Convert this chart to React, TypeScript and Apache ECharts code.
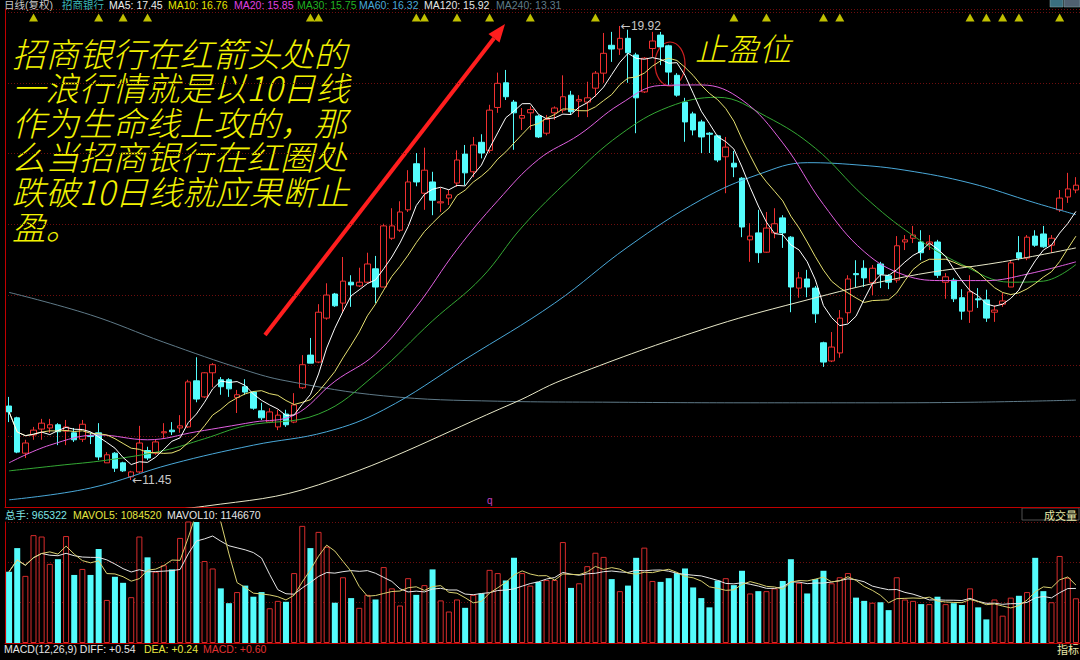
import React, { useEffect, useRef } from "react";
import * as echarts from "echarts";

// [open, close, low, high]
const candles: number[][] = [
  [12.83, 12.72, 12.53, 13.0], [12.61, 11.97, 11.95, 12.63], [11.95, 12.14, 11.86, 12.2], [12.29, 12.38, 12.2, 12.44],
  [12.4, 12.51, 12.2, 12.59], [12.42, 12.48, 12.33, 12.59], [12.48, 12.35, 12.1, 12.51], [12.36, 12.44, 12.1, 12.57],
  [12.33, 12.2, 12.16, 12.42], [12.21, 12.49, 12.16, 12.57], [12.28, 12.26, 12.12, 12.34], [12.33, 11.88, 11.82, 12.51],
  [11.77, 11.92, 11.77, 11.97], [11.95, 11.67, 11.6, 11.97], [11.77, 11.62, 11.6, 11.79], [11.51, 11.6, 11.45, 11.62],
  [11.6, 12.14, 11.58, 12.46], [12.0, 11.86, 11.82, 12.07], [11.95, 12.16, 11.92, 12.2], [12.33, 12.35, 12.23, 12.51],
  [12.38, 12.35, 12.29, 12.53], [12.42, 12.46, 12.33, 12.66], [12.44, 13.28, 12.42, 13.32], [13.3, 12.96, 12.9, 13.74],
  [13.0, 13.45, 12.98, 13.46], [13.45, 13.6, 13.18, 13.63], [13.32, 13.19, 13.04, 13.37], [13.32, 13.15, 13.0, 13.35],
  [12.99, 13.04, 12.7, 13.13], [13.19, 13.09, 13.04, 13.33], [13.09, 12.79, 12.76, 13.11], [12.74, 12.61, 12.57, 12.89],
  [12.53, 12.72, 12.51, 12.79], [12.44, 12.66, 12.38, 12.76], [12.68, 12.48, 12.44, 12.76], [12.53, 12.85, 12.51, 13.07],
  [13.17, 13.6, 13.15, 13.78], [13.78, 13.63, 13.63, 14.1], [13.65, 14.58, 13.63, 14.73], [14.47, 14.9, 14.44, 15.12],
  [14.92, 14.7, 14.68, 14.94], [14.75, 15.16, 14.58, 15.61], [15.14, 15.09, 14.68, 15.27], [15.07, 15.14, 15.05, 15.41],
  [15.14, 15.48, 15.12, 15.69], [15.39, 15.05, 14.75, 15.63], [15.05, 16.19, 15.05, 16.23], [15.96, 16.19, 15.93, 16.52],
  [16.11, 16.45, 16.08, 16.65], [16.49, 17.01, 16.45, 17.23], [17.35, 17.01, 16.93, 17.55], [16.8, 17.23, 16.49, 17.65],
  [17.01, 16.67, 16.39, 17.2], [16.62, 16.64, 16.45, 16.9], [16.71, 16.77, 16.58, 16.86], [16.99, 17.42, 16.92, 17.6],
  [17.53, 17.18, 16.95, 17.7], [17.2, 17.7, 17.1, 17.85], [17.75, 17.55, 17.45, 17.9], [17.6, 18.35, 17.55, 18.45],
  [18.4, 18.85, 18.3, 19.05], [18.86, 18.6, 18.54, 19.1], [18.5, 18.3, 17.61, 18.54], [18.2, 18.25, 17.98, 18.39],
  [18.3, 18.36, 17.98, 18.42], [18.24, 17.85, 17.83, 18.26], [17.92, 18.18, 17.88, 18.26], [18.3, 18.39, 18.17, 18.42],
  [18.35, 18.6, 18.3, 19.0], [18.63, 18.32, 18.26, 18.71], [18.52, 18.55, 18.22, 18.63], [18.5, 18.58, 18.22, 18.88],
  [18.76, 19.04, 18.6, 19.08], [19.04, 19.41, 18.86, 19.79], [19.56, 19.49, 19.25, 19.81], [19.49, 19.69, 19.38, 19.92],
  [19.69, 19.42, 18.86, 19.85], [19.38, 18.58, 17.92, 19.42], [18.69, 19.32, 18.67, 19.34], [19.5, 19.64, 19.34, 19.81],
  [19.75, 19.53, 19.19, 19.81], [19.55, 19.06, 18.82, 19.57], [19.0, 18.63, 18.6, 19.04], [18.5, 18.13, 17.76, 18.58],
  [18.28, 17.98, 17.88, 18.32], [18.13, 17.85, 17.55, 18.17], [17.92, 17.9, 17.55, 17.94], [17.87, 17.42, 17.38, 17.89],
  [17.48, 17.66, 16.8, 17.85], [17.36, 17.29, 17.1, 17.59], [17.08, 16.17, 15.98, 17.1], [15.93, 16.0, 15.52, 16.24],
  [16.06, 15.69, 15.5, 16.49], [15.7, 16.15, 15.69, 16.45], [16.06, 16.23, 15.96, 16.52], [16.34, 16.06, 15.78, 16.39],
  [15.98, 15.05, 14.58, 16.0], [15.03, 15.22, 14.85, 15.33], [15.2, 15.05, 14.86, 15.37], [15.03, 14.55, 14.38, 15.07],
  [14.01, 13.65, 13.56, 14.03], [13.67, 13.93, 13.65, 14.21], [13.82, 14.47, 13.73, 14.62], [14.57, 15.2, 14.38, 15.27],
  [15.3, 15.28, 15.05, 15.55], [15.4, 15.22, 15.05, 15.55], [15.13, 15.4, 14.9, 15.46], [15.48, 15.29, 15.03, 15.52],
  [15.26, 15.14, 15.01, 15.29], [15.18, 15.82, 15.13, 16.0], [15.89, 15.93, 15.74, 16.02], [15.96, 16.02, 15.87, 16.19],
  [15.89, 15.69, 15.55, 16.11], [15.85, 15.89, 15.74, 16.02], [15.89, 15.27, 15.22, 15.93], [15.14, 15.24, 14.83, 15.31],
  [15.18, 14.83, 14.77, 15.22], [14.85, 14.6, 14.44, 15.01], [14.6, 14.96, 14.38, 15.27], [14.83, 14.81, 14.66, 15.03],
  [14.81, 14.47, 14.4, 15.0], [14.58, 14.62, 14.4, 14.71], [14.73, 14.79, 14.68, 14.94], [15.05, 15.5, 15.05, 15.55],
  [15.69, 15.59, 15.55, 16.0], [15.59, 15.98, 15.55, 16.02], [16.0, 15.83, 15.8, 16.11], [16.04, 15.8, 15.78, 16.19],
  [15.83, 15.96, 15.69, 16.02], [16.49, 16.71, 16.45, 16.86], [16.73, 16.88, 16.62, 17.18], [16.86, 16.95, 16.8, 17.1],
];

const volumes: number[] = [
  1540000, 2050000, 1450000, 2330000, 2300000, 1710000, 1810000, 2310000, 1470000, 1600000,
  1470000, 2030000, 930000, 1430000, 1300000, 990000, 2300000, 1850000, 1540000, 1680000,
  1590000, 2270000, 4300000, 4200000, 1770000, 1610000, 1180000, 860000, 1100000, 1240000,
  1000000, 1100000, 750000, 910000, 890000, 1510000, 2530000, 2050000, 2400000, 2080000,
  870000, 1420000, 970000, 760000, 1040000, 940000, 1640000, 1180000, 810000, 1400000,
  1040000, 1250000, 1590000, 920000, 680000, 940000, 760000, 1040000, 1070000, 1580000,
  1510000, 1350000, 1840000, 1510000, 1240000, 1320000, 1360000, 1360000, 2180000, 1190000,
  1290000, 1660000, 1950000, 1860000, 1380000, 1120000, 1240000, 1840000, 2060000, 1340000,
  1320000, 1400000, 1510000, 1610000, 1200000, 970000, 770000, 1350000, 1400000, 1250000,
  1560000, 1070000, 1120000, 1120000, 1180000, 1340000, 1810000, 1300000, 1070000, 1380000,
  1560000, 1290000, 1420000, 1510000, 980000, 910000, 870000, 880000, 710000, 1420000,
  940000, 910000, 840000, 840000, 1000000, 840000, 860000, 820000, 1180000, 770000,
  510000, 940000, 590000, 980000, 1020000, 1100000, 1840000, 1120000, 880000, 1880000,
  1410000, 965322,
];

// moving averages: [candle index, value]
const ma20Pts: number[][] = [
  [0, 11.77], [5, 12.1], [11, 12.29], [17, 12.2], [23, 12.35], [30, 12.53], [35, 12.66], [40, 13.29], [45, 13.8],
  [50, 14.68], [55, 15.75], [60, 16.66], [65, 17.43], [70, 17.89], [75, 18.46], [80, 18.81], [85, 18.82], [90, 18.54],
  [95, 17.74], [100, 16.59], [105, 15.71], [110, 15.27], [115, 15.17], [120, 15.17], [125, 15.29], [131, 15.52],
];
const ma30Pts: number[][] = [
  [0, 11.62], [6, 11.72], [12, 11.82], [19, 12.0], [24, 12.22], [29, 12.46], [38, 12.68], [45, 13.42], [52, 14.42],
  [58, 15.22], [63, 16.17], [69, 17.09], [75, 17.89], [81, 18.41], [87, 18.59], [93, 18.23], [99, 17.64], [105, 16.74],
  [111, 16.01], [117, 15.47], [123, 15.14], [127, 15.16], [131, 15.47],
];
const ma60Pts: number[][] = [
  [0, 11.08], [10, 11.3], [20, 11.75], [30, 12.1], [39, 12.35], [46, 12.76], [56, 13.7], [67, 14.75], [76, 15.8],
  [85, 16.68], [92, 17.15], [98, 17.37], [104, 17.33], [110, 17.23], [118, 16.99], [126, 16.62], [131, 16.4],
];
const ma120Pts: number[][] = [
  [14, 10.85], [24, 10.96], [38, 11.36], [62, 12.89], [68, 13.32], [85, 14.25], [97, 14.77], [110, 15.24], [122, 15.52], [131, 15.78],
];
const ma240Pts: number[][] = [
  [0, 14.95], [10, 14.53], [19, 14.02], [29, 13.5], [34, 13.3], [46, 13.02], [60, 12.92], [75, 12.9], [90, 12.89],
  [105, 12.89], [118, 12.9], [131, 12.94],
];

const signalIdx: number[] = [3, 11, 14, 17, 37, 38, 50, 51, 55, 59, 64, 72, 89, 93, 100, 102, 118, 120, 122, 124, 129];
const signalLevel = 20.08;

const headerTexts: string[] = ["日线(复权)", "招商银行", "MA5: 17.45", "MA10: 16.76", "MA20: 15.85", "MA30: 15.75", "MA60: 16.32", "MA120: 15.92", "MA240: 13.31"];
const volHeaderTexts: string[] = ["总手: 965322", "MAVOL5: 1084520", "MAVOL10: 1146670"];
const macdTexts: string[] = ["MACD(12,26,9) DIFF: +0.54", "DEA: +0.24", "MACD: +0.60"];
const noteLines: string[] = ["招商银行在红箭头处的", "一浪行情就是以10日线", "作为生命线上攻的，那", "么当招商银行在红圈处", "跌破10日线就应果断止", "盈。"];
const stopText = "止盈位";

const days = candles.map((_, i) => `D${i + 1}`);

function movingAvg(vals: number[], n: number): number[] {
  return vals.map((_, i) => {
    const w = vals.slice(Math.max(0, i - n + 1), i + 1);
    return +(w.reduce((a, b) => a + b, 0) / w.length).toFixed(3);
  });
}

const SANS = '"Liberation Sans", "Noto Sans CJK SC", sans-serif';
const CJK = '"Noto Sans CJK SC", sans-serif';

function buildOption() {
  const closes = candles.map((c) => c[1]);
  const ma5 = movingAvg(closes, 5);
  const ma10 = movingAvg(closes, 10);
  const mav5 = movingAvg(volumes, 5);
  const mav10 = movingAvg(volumes, 10);

  let hiI = 0, loI = 0;
  candles.forEach((c, i) => {
    if (c[3] > candles[hiI][3]) hiI = i;
    if (c[2] < candles[loI][2]) loI = i;
  });

  const volItems = volumes.map((v, i) => {
    const up = candles[i][1] >= candles[i][0];
    return {
      value: v,
      itemStyle: up
        ? { color: "#000000", borderColor: "#D82C2C", borderWidth: 1 }
        : { color: "#54FCFC", borderColor: "#54FCFC", borderWidth: 0 },
    };
  });

  const pts = (p: number[][]) => p.map(([i, v]) => [days[i], v]);
  const line = (data: any[], color: string, smooth: boolean | number = false, xi = 0, yi = 0) => ({
    type: "line",
    xAxisIndex: xi,
    yAxisIndex: yi,
    data,
    symbol: "none",
    smooth,
    silent: true,
    lineStyle: { color, width: 1 },
    z: 3,
  });

  const hidden = { axisTick: { show: false }, axisLabel: { show: false } };
  const dotted = { show: true, lineStyle: { color: "#6E0E0E", width: 1, type: [1, 2] } };

  const headerX = [4, 62, 109, 168, 234, 297, 359, 424, 496];
  const headerC = ["#C8C8C8", "#3CB8B8", "#EDEDED", "#E6E600", "#E040E0", "#22B022", "#4AA8D8", "#E6E6E6", "#5F7A88"];
  const volX = [5, 73, 167];
  const volC = ["#7FE5E5", "#E6E640", "#E6E6E6"];
  const macdX = [4, 144, 203];
  const macdC = ["#E6E6E6", "#E6E640", "#E03030"];

  const u = [238 / 389, -308 / 389];
  const tip = [505, 24];
  const base = [tip[0] - 18 * u[0], tip[1] - 18 * u[1]];
  const nrm = [-u[1], u[0]];

  const small = (x: number, y: number, t: string, c: string) => ({
    type: "text", x, y, silent: true,
    style: { text: t, fill: c, fontSize: 10.5, fontFamily: SANS, verticalAlign: "middle" },
  });

  const graphic: any[] = [
    ...headerTexts.map((t, i) => small(headerX[i], 5, t, headerC[i])),
    ...volHeaderTexts.map((t, i) => small(volX[i], 515, t, volC[i])),
    ...macdTexts.map((t, i) => small(macdX[i], 649, t, macdC[i])),
    { type: "rect", shape: { x: 1022, y: 508, width: 57, height: 12 }, style: { fill: "#000", stroke: "#505050", lineWidth: 1 } },
    { type: "text", x: 1077, y: 515, style: { text: "成交量", fill: "#E8E8A8", fontSize: 11, fontFamily: CJK, align: "right", verticalAlign: "middle" } },
    { type: "text", x: 1057, y: 649, style: { text: "指标", fill: "#E8E8A8", fontSize: 11, fontFamily: CJK, verticalAlign: "middle" } },
    { type: "rect", shape: { x: 1050, y: -2, width: 13, height: 9 }, style: { fill: "#3A6F7F", stroke: "#8AA", lineWidth: 0.5 } },
    { type: "rect", shape: { x: 1064, y: -2, width: 16, height: 9 }, style: { fill: "#506070", stroke: "#8AA", lineWidth: 0.5 } },
    { type: "text", x: 487, y: 500, style: { text: "q", fill: "#C040C0", fontSize: 10, fontFamily: SANS, verticalAlign: "middle" } },
    ...noteLines.map((t, k) => ({
      type: "text", x: 12, y: 52 + k * 34.6, silent: true,
      style: {
        text: t, fill: "#F2F200", fontSize: 33.5, fontStyle: "italic", fontWeight: 300,
        fontFamily: CJK, verticalAlign: "middle", lineHeight: 34,
      },
    })),
    {
      type: "text", x: 695, y: 47, silent: true,
      style: { text: stopText, fill: "#F2F200", fontSize: 32, fontStyle: "italic", fontWeight: 300, fontFamily: CJK, verticalAlign: "middle" },
    },
    { type: "line", shape: { x1: 265, y1: 335, x2: base[0], y2: base[1] }, style: { stroke: "#FF1E1E", lineWidth: 4 } },
    {
      type: "polygon",
      shape: { points: [tip, [base[0] + 7 * nrm[0], base[1] + 7 * nrm[1]], [base[0] - 7 * nrm[0], base[1] - 7 * nrm[1]]] },
      style: { fill: "#FF1E1E" },
    },
    { type: "ellipse", shape: { cx: 670, cy: 64, rx: 15, ry: 22 }, style: { fill: "none", stroke: "#D02020", lineWidth: 1.2 } },
  ];

  return {
    backgroundColor: "#000000",
    animation: false,
    grid: [
      { left: 5, right: 0, top: 9, height: 498 },
      { left: 5, right: 0, top: 522, height: 121 },
    ],
    xAxis: [0, 1].map((g) => ({
      type: "category", gridIndex: g, data: days, boundaryGap: true,
      axisLine: { show: true, onZero: false, lineStyle: { color: "#C00000", width: 1 } },
      splitLine: { show: false }, ...hidden,
    })),
    yAxis: [
      {
        type: "value", gridIndex: 0, min: 10.946, max: 20.237, position: "left",
        axisLine: { show: true, lineStyle: { color: "#C00000" } }, splitLine: { show: false }, ...hidden,
      },
      {
        type: "value", gridIndex: 0, min: 0, max: 7.044, interval: 1, position: "right",
        axisLine: { show: false }, splitLine: dotted, ...hidden,
      },
      {
        type: "value", gridIndex: 1, min: 0, max: 2613600, interval: 870480, position: "left",
        axisLine: { show: true, lineStyle: { color: "#C00000" } }, splitLine: dotted, ...hidden,
      },
    ],
    series: [
      {
        type: "candlestick", xAxisIndex: 0, yAxisIndex: 0, data: candles, barWidth: 6, silent: true,
        itemStyle: { color: "#000000", color0: "#54FCFC", borderColor: "#F03030", borderColor0: "#54FCFC", borderWidth: 1 },
        markPoint: {
          symbol: "circle", symbolSize: 0, silent: true,
          label: {
            show: true, position: "right", distance: 1,
            formatter: (p: any) => `{a|←}{b|${p.value.toFixed(2)}}`,
            rich: {
              a: { fontFamily: '"DejaVu Sans"', fontSize: 12, color: "#C8C8C8" },
              b: { fontFamily: SANS, fontSize: 12, color: "#C8C8C8" },
            },
          },
          data: [
            { coord: [days[hiI], candles[hiI][3]], value: candles[hiI][3] },
            { coord: [days[loI], candles[loI][2]], value: candles[loI][2] },
          ],
        },
      },
      line(pts(ma240Pts), "#5F7A88", 0.4),
      line(pts(ma120Pts), "#E8E8C8", 0.4),
      line(pts(ma60Pts), "#4AA8D8", 0.4),
      line(pts(ma30Pts), "#34A834", 0.4),
      line(pts(ma20Pts), "#E060E0", 0.4),
      line(ma10, "#E6E070"),
      line(ma5, "#FFFFFF"),
      {
        type: "scatter", xAxisIndex: 0, yAxisIndex: 0, silent: true,
        data: signalIdx.map((i) => [days[i], signalLevel]),
        symbol: "triangle", symbolSize: [9, 8], itemStyle: { color: "#F0F000" }, z: 4,
      },
      { type: "bar", xAxisIndex: 1, yAxisIndex: 2, data: volItems, barWidth: 6, silent: true },
      line(mav10, "#E6E6E6", false, 1, 2),
      line(mav5, "#D8D070", false, 1, 2),
    ],
    graphic,
  };
}

export default function App() {
  const ref = useRef<HTMLDivElement>(null);
  useEffect(() => {
    const chart = echarts.init(ref.current!, undefined, { renderer: "svg" });
    chart.setOption(buildOption() as any);
    return () => chart.dispose();
  }, []);
  return (
    <div
      ref={ref}
      style={{ position: "fixed", left: 0, top: 0, width: 1080, height: 660, background: "#000" }}
    />
  );
}
